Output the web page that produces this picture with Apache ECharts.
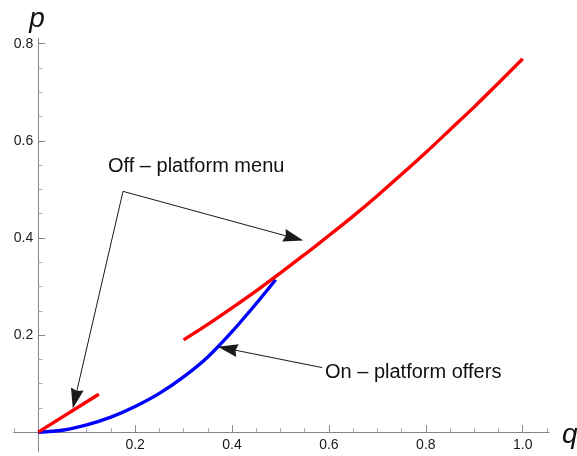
<!DOCTYPE html>
<html><head><meta charset="utf-8">
<script src="https://cdn.jsdelivr.net/npm/echarts@6/dist/echarts.min.js"></script>
<style>html,body{margin:0;padding:0;background:#fff}#c{width:577px;height:456px}</style>
</head><body><div id="c"></div>
<script>
// ---- data ----
const qBlue = [0, 0.05, 0.10, 0.15, 0.20, 0.25, 0.30, 0.35, 0.40, 0.45, 0.49];
const pBlue = [0, 0.004, 0.015, 0.031, 0.053, 0.080, 0.114, 0.155, 0.207, 0.265, 0.314];

const qRedLow = [0, 0.125];
const pRedLow = [0, 0.078];

const qRedHigh = [0.30, 0.35, 0.40, 0.45, 0.50, 0.55, 0.60, 0.65, 0.70, 0.75, 0.80, 0.85, 0.90, 0.95, 1.00];
const pRedHigh = [0.190, 0.222, 0.256, 0.291, 0.328, 0.366, 0.405, 0.445, 0.487, 0.531, 0.576, 0.623, 0.670, 0.719, 0.769];

const xLabelTicks = [0.2, 0.4, 0.6, 0.8, 1.0];
const yLabelTicks = [0.2, 0.4, 0.6, 0.8];
const xMinorTicks = [-0.05, 0.05, 0.1, 0.15, 0.25, 0.3, 0.35, 0.45, 0.5, 0.55, 0.65, 0.7, 0.75, 0.85, 0.9, 0.95, 1.05];
const yMinorTicks = [0.05, 0.1, 0.15, 0.25, 0.3, 0.35, 0.45, 0.5, 0.55, 0.65, 0.7, 0.75];

// annotation arrows (data coordinates; end = arrowhead centre)
const offMenuVertex = [0.175, 0.496];
const offMenuEnds = [[0.527, 0.400], [0.076, 0.069]];
const onOffersStart = [0.586, 0.133];
const onOffersEnd = [0.391, 0.172];

const offMenuText = 'Off – platform menu';
const onOffersText = 'On – platform offers';

// ---- chart ----
const zip = (a, b) => a.map((v, i) => [v, b[i]]);
const FONT = '"Liberation Sans", Arial, sans-serif';
const AXIS_COLOR = '#858585';
const ARROW = 'path://M6,0 L12,20 L6,18 L0,20 Z';

const chart = echarts.init(document.getElementById('c'), null, {renderer: 'canvas'});

const gridBox = {left: 14, right: 28.1, top: 38.4, bottom: 4.4, containLabel: false};
const labelGrid = {left: 38.2, right: 28.1, top: 38.4, bottom: 23.9, containLabel: false};

function xAxisDef(gi, major) {
  return {
    gridIndex: gi, type: 'value', min: -0.05, max: 1.054,
    axisLine: {show: true, onZero: true, lineStyle: {color: AXIS_COLOR, width: 1}},
    axisTick: {show: true, inside: true, length: major ? 7 : 4,
               customValues: major ? xLabelTicks : xMinorTicks,
               lineStyle: {color: major ? AXIS_COLOR : '#a8a8a8', width: 1}},
    axisLabel: {show: false},
    splitLine: {show: false}
  };
}
function yAxisDef(gi, major) {
  return {
    gridIndex: gi, type: 'value', min: -0.04, max: 0.811,
    axisLine: {show: true, onZero: true, lineStyle: {color: AXIS_COLOR, width: 1}},
    axisTick: {show: true, inside: true, length: major ? 7 : 4,
               customValues: major ? yLabelTicks : yMinorTicks,
               lineStyle: {color: major ? AXIS_COLOR : '#a8a8a8', width: 1}},
    axisLabel: {show: false},
    splitLine: {show: false}
  };
}
function labelFmt(list) {
  return v => list.some(t => Math.abs(t - v) < 1e-6) ? v.toFixed(1) : '';
}
const xLabelAxis = {
  gridIndex: 2, type: 'value', min: 0, max: 1.054, interval: 0.2, position: 'bottom',
  axisLine: {show: false, onZero: false}, axisTick: {show: false}, splitLine: {show: false},
  axisLabel: {show: true, interval: 0, hideOverlap: false, formatter: labelFmt(xLabelTicks),
              margin: 6, color: '#1a1a1a', fontSize: 14, fontFamily: FONT}
};
const yLabelAxis = {
  gridIndex: 2, type: 'value', min: 0, max: 0.811, interval: 0.2, position: 'left',
  axisLine: {show: false, onZero: false}, axisTick: {show: false}, splitLine: {show: false},
  axisLabel: {show: true, interval: 0, hideOverlap: false, formatter: labelFmt(yLabelTicks),
              margin: 5, color: '#1a1a1a', fontSize: 14, fontFamily: FONT}
};

const arrowLine = (from, to) => [
  {coord: from, symbol: 'none'},
  {coord: to, symbol: ARROW, symbolSize: [13, 20]}
];

chart.setOption({
  animation: false,
  backgroundColor: '#fff',
  grid: [Object.assign({}, gridBox), Object.assign({}, gridBox), labelGrid],
  xAxis: [xAxisDef(0, false), xAxisDef(1, true), xLabelAxis],
  yAxis: [yAxisDef(0, false), yAxisDef(1, true), yLabelAxis],
  series: [
    {type: 'line', xAxisIndex: 0, yAxisIndex: 0, data: zip(qBlue, pBlue), smooth: 0.3,
     showSymbol: false, clip: false, silent: true,
     lineStyle: {color: '#0000ff', width: 3.4}},
    {type: 'line', xAxisIndex: 0, yAxisIndex: 0, data: zip(qRedLow, pRedLow),
     showSymbol: false, clip: false, silent: true,
     lineStyle: {color: '#ff0000', width: 3.4}},
    {type: 'line', xAxisIndex: 0, yAxisIndex: 0, data: zip(qRedHigh, pRedHigh), smooth: 0.3,
     showSymbol: false, clip: false, silent: true,
     lineStyle: {color: '#ff0000', width: 3.4}},
    {type: 'line', xAxisIndex: 0, yAxisIndex: 0, data: [], silent: true,
     markLine: {
       silent: true, animation: false,
       symbol: ['none', ARROW], symbolSize: [0, 20],
       label: {show: false},
       emphasis: {disabled: true},
       itemStyle: {color: '#000'},
       lineStyle: {color: '#1a1a1a', width: 1, type: 'solid'},
       data: [
         arrowLine(offMenuVertex, offMenuEnds[0]),
         arrowLine(offMenuVertex, offMenuEnds[1]),
         arrowLine(onOffersStart, onOffersEnd)
       ]
     }}
  ],
  graphic: [
    {type: 'text', x: 108, y: 166, silent: true,
     style: {text: offMenuText, font: '20px ' + FONT, fill: '#111', align: 'left', verticalAlign: 'middle'}},
    {type: 'text', x: 325, y: 372, silent: true,
     style: {text: onOffersText, font: '20px ' + FONT, fill: '#111', align: 'left', verticalAlign: 'middle'}},
    {type: 'text', x: 37, y: 19, silent: true,
     style: {text: 'p', font: 'italic 28px ' + FONT, fill: '#111', align: 'center', verticalAlign: 'middle'}},
    {type: 'text', x: 562, y: 435, silent: true,
     style: {text: 'q', font: 'italic 28px ' + FONT, fill: '#111', align: 'left', verticalAlign: 'middle'}}
  ]
});
</script></body></html>
